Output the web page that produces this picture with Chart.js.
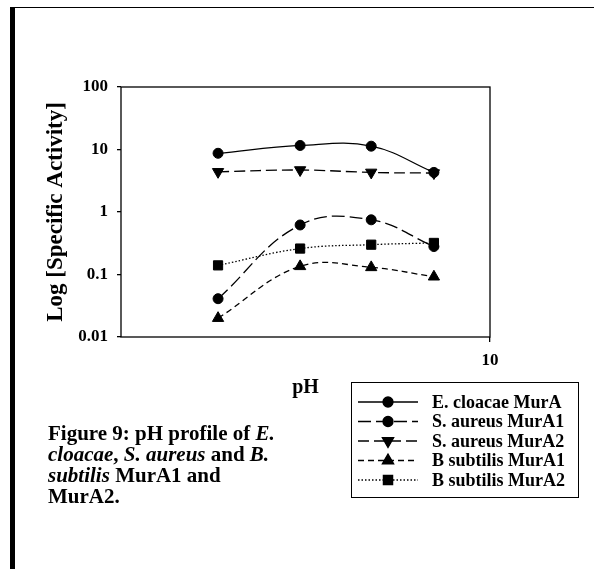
<!DOCTYPE html>
<html>
<head>
<meta charset="utf-8">
<script src="https://cdn.jsdelivr.net/npm/chart.js@4.4.1/dist/chart.umd.min.js"></script>
<style>
  html, body { margin: 0; padding: 0; background: #fff; }
  #wrap { position: relative; width: 594px; height: 569px; overflow: hidden; }
  #c { position: absolute; left: 0; top: 0; }
  #bar { position: absolute; left: 10px; top: 7px; width: 5px; height: 562px; background: #000; }
  #topline { position: absolute; left: 10px; top: 7px; width: 584px; height: 1px; background: #000; }
  #caption { position: absolute; left: 48px; top: 423px; font-family: "Liberation Serif", "Times New Roman", serif;
             font-weight: bold; font-size: 21px; line-height: 21px; color: #000; white-space: nowrap; }
</style>
</head>
<body>
<div id="wrap">
  <canvas id="c" width="594" height="569"></canvas>
  <div id="bar"></div>
  <div id="topline"></div>
  <div id="caption">Figure 9: pH profile of <i>E.</i><br><i>cloacae</i>, <i>S. aureus</i> and <i>B.</i><br><i>subtilis</i> MurA1 and<br>MurA2.</div>
</div>
<script>
// ---- data ----
const pH = [6, 7, 8, 9];
const seriesNames = ['E. cloacae MurA', 'S. aureus MurA1', 'S. aureus MurA2', 'B subtilis MurA1', 'B subtilis MurA2'];
const eCloacaeMurA = [8.7, 11.6, 11.3, 4.3];
const sAureusMurA1 = [0.041, 0.62, 0.75, 0.28];
const sAureusMurA2 = [4.4, 4.7, 4.3, 4.2];
const bSubtilisMurA1 = [0.02, 0.135, 0.13, 0.092];
const bSubtilisMurA2 = [0.14, 0.26, 0.30, 0.32];
const yTickValues = [0.01, 0.1, 1, 10, 100];
const xTickValues = [10];

const FONT = "'Liberation Serif', 'Times New Roman', serif";

function pts(vals) { return pH.map((x, i) => ({ x: x, y: vals[i] })); }

const styles = [
  { dash: [], pointStyle: 'circle', radius: 5, rotation: 0 },
  { dash: [13, 5], pointStyle: 'circle', radius: 5, rotation: 0 },
  { dash: [11, 5], pointStyle: 'triangle', radius: 6.5, rotation: 180 },
  { dash: [6, 4], pointStyle: 'triangle', radius: 6.5, rotation: 0 },
  { dash: [1.5, 2], pointStyle: 'rect', radius: 6.5, rotation: 0 }
];
const seriesValues = [eCloacaeMurA, sAureusMurA1, sAureusMurA2, bSubtilisMurA1, bSubtilisMurA2];

const datasets = seriesValues.map((vals, i) => ({
  label: seriesNames[i],
  data: pts(vals),
  borderColor: '#000',
  backgroundColor: '#000',
  borderWidth: 1.3,
  borderDash: styles[i].dash,
  tension: 0.4,
  pointStyle: styles[i].pointStyle,
  pointRadius: styles[i].radius,
  pointRotation: styles[i].rotation,
  pointBackgroundColor: '#000',
  pointBorderColor: '#000',
  pointBorderWidth: 1
}));

const frameAndLegend = {
  id: 'frameAndLegend',
  afterDatasetsDraw(chart) {
    const { ctx, chartArea: a } = chart;
    ctx.save();
    ctx.strokeStyle = '#000';
    ctx.lineWidth = 1.3;
    ctx.setLineDash([]);
    ctx.strokeRect(a.left, a.top, a.right - a.left, a.bottom - a.top);
    ctx.restore();
  },
  afterDraw(chart) {
    const ctx = chart.ctx;
    const box = { x: 351.5, y: 382.5, w: 227, h: 115 };
    ctx.save();
    ctx.strokeStyle = '#000';
    ctx.lineWidth = 1;
    ctx.strokeRect(box.x, box.y, box.w, box.h);
    chart.data.datasets.forEach((ds, i) => {
      const y = 402 + i * 19.5;
      ctx.save();
      ctx.strokeStyle = ds.borderColor;
      ctx.lineWidth = ds.borderWidth;
      ctx.setLineDash(ds.borderDash);
      ctx.beginPath();
      ctx.moveTo(358, y);
      ctx.lineTo(418, y);
      ctx.stroke();
      ctx.setLineDash([]);
      ctx.fillStyle = '#000';
      Chart.helpers.drawPoint(ctx, {
        pointStyle: ds.pointStyle,
        rotation: ds.pointRotation,
        radius: ds.pointRadius,
        borderWidth: 1
      }, 388, y);
      ctx.fill();
      ctx.restore();
      ctx.fillStyle = '#000';
      ctx.font = 'bold 18px ' + FONT;
      ctx.textBaseline = 'middle';
      ctx.textAlign = 'left';
      ctx.fillText(ds.label, 432, y + 1);
    });
    ctx.restore();
  }
};

new Chart(document.getElementById('c'), {
  type: 'line',
  data: { datasets: datasets },
  options: {
    responsive: false,
    animation: false,
    devicePixelRatio: 1,
    layout: { padding: { left: 38, top: 87, right: 104, bottom: 169 } },
    plugins: { legend: { display: false }, tooltip: { enabled: false } },
    scales: {
      x: {
        type: 'logarithmic',
        min: 5, max: 10,
        afterBuildTicks: (s) => { s.ticks = xTickValues.map(v => ({ value: v })); },
        afterFit: (s) => { s.height = 63; },
        border: { display: false },
        grid: { drawOnChartArea: false, tickLength: 5, color: '#000', lineWidth: 1.3 },
        ticks: {
          autoSkip: false, maxRotation: 0, padding: 8, color: '#000',
          font: { family: FONT, weight: 'bold', size: 17 },
          callback: (v) => String(v)
        },
        title: {
          display: true, text: 'pH', color: '#000', align: 'center',
          font: { family: FONT, weight: 'bold', size: 20 },
          padding: { top: 0, bottom: 0 }
        }
      },
      y: {
        type: 'logarithmic',
        min: 0.01, max: 100,
        afterBuildTicks: (s) => { s.ticks = yTickValues.map(v => ({ value: v })); },
        afterFit: (s) => { s.width = 121 - 38; },
        border: { display: false },
        grid: { drawOnChartArea: false, tickLength: 4, color: '#000', lineWidth: 1.3 },
        ticks: {
          autoSkip: false, padding: 9, color: '#000',
          font: { family: FONT, weight: 'bold', size: 17 },
          callback: (v) => String(v)
        },
        title: {
          display: true, text: 'Log [Specific Activity]', color: '#000',
          font: { family: FONT, weight: 'bold', size: 23 },
          padding: { top: 4, bottom: 0 }
        }
      }
    }
  },
  plugins: [frameAndLegend]
});
</script>
</body>
</html>
